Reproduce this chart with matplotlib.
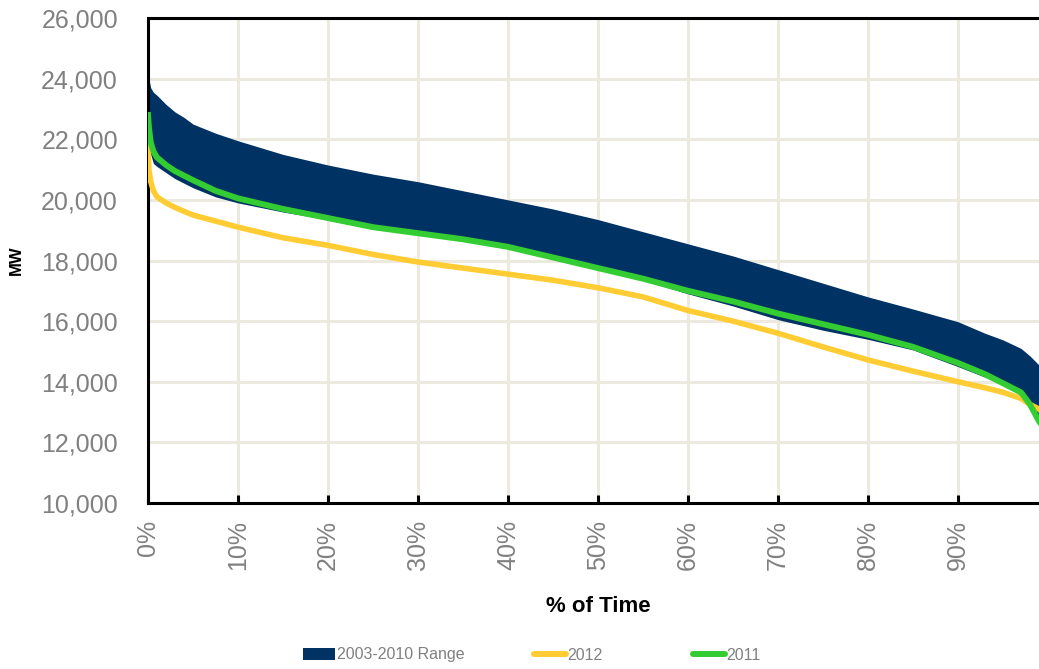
import matplotlib
matplotlib.use("Agg")
import matplotlib.pyplot as plt
from matplotlib.patches import Patch
from matplotlib.lines import Line2D
from matplotlib.ticker import FuncFormatter, MultipleLocator

plt.rcParams['font.family'] = ['Liberation Sans', 'DejaVu Sans']

# --- data ---
pct = [0, 0.1, 0.3, 0.6, 1, 2, 3, 4, 5, 7.5, 10, 15, 20, 25, 30, 35, 40, 45, 50,
       55, 60, 65, 70, 75, 80, 85, 90, 93, 95, 97, 98, 99, 99.5, 100]

range_high = [24600, 24000, 23700, 23550, 23450, 23150, 22900, 22720, 22500, 22200, 21950,
              21500, 21150, 20850, 20600, 20300, 20000, 19700, 19350, 18950, 18550,
              18150, 17700, 17250, 16800, 16400, 15980, 15600, 15380, 15100, 14850,
              14550, 14300, 13800]
range_low = [22200, 21900, 21500, 21200, 21100, 20900, 20700, 20550, 20400, 20100, 19900,
             19600, 19350, 19050, 18850, 18650, 18400, 18050, 17700, 17350, 16900,
             16500, 16050, 15700, 15400, 15050, 14500, 14150, 13900, 13550, 13200,
             12800, 12500, 12200]
load_2011 = [22800, 22400, 21900, 21600, 21400, 21150, 20950, 20800, 20650, 20300, 20050,
             19700, 19400, 19100, 18900, 18700, 18450, 18100, 17750, 17400, 17000,
             16650, 16250, 15900, 15550, 15150, 14620, 14250, 13950, 13650, 13250,
             12700, 12500, 12300]
load_2012 = [21800, 21000, 20600, 20300, 20100, 19900, 19750, 19620, 19500, 19300, 19100,
             18750, 18500, 18200, 17950, 17750, 17550, 17350, 17100, 16800, 16350,
             16000, 15600, 15150, 14720, 14350, 14000, 13800, 13650, 13450, 13250,
             13100, 12950, 12700]

labels = ['2003-2010 Range', '2012', '2011']
navy = '#003263'
yellow = '#FFCC33'
green = '#33CC33'
gray = '#808080'
grid_c = '#ECE9DF'

fig = plt.figure(figsize=(10.39, 6.69), dpi=100)
# axes run to 100% but the picture is cut just short of it
ax = fig.add_axes([148 / 1039, 166 / 669, 900 / 1039, 485 / 669])

ax.fill_between(pct, range_low, range_high, color=navy, lw=0, zorder=2)
ax.plot(pct, load_2012, color=yellow, lw=4, zorder=3)
ax.plot(pct, load_2011, color=green, lw=4.3, zorder=4)

ax.set_xlim(0, 100)
ax.set_ylim(10000, 26000)
ax.set_xticks(range(0, 100, 10))
ax.yaxis.set_major_locator(MultipleLocator(2000))
ax.xaxis.set_major_formatter(FuncFormatter(lambda v, p: f"{v:.0f}%"))
ax.yaxis.set_major_formatter(FuncFormatter(lambda v, p: f"{v:,.0f}"))

ax.grid(True, color=grid_c, lw=2.2, zorder=0)
ax.set_axisbelow(True)
for s in ax.spines.values():
    s.set_linewidth(2.2)
    s.set_color('black')

ax.tick_params(axis='x', direction='in', length=6, width=2.2, pad=12,
               labelsize=18, labelcolor=gray, labelrotation=90)
ax.tick_params(axis='y', length=0, pad=21.6, labelsize=18, labelcolor=gray)

ax.set_xlabel('% of Time', fontsize=16, fontweight='bold')
ax.xaxis.set_label_coords(0.5, -0.192)
ax.set_ylabel('MW', fontsize=12, fontweight='bold')
ax.yaxis.set_label_coords(-0.138, 0.5)

# legend entries placed one by one (the original spreads them out)
handles = [Patch(facecolor=navy, edgecolor='none'),
           Line2D([], [], color=yellow, lw=4.3, solid_capstyle='round'),
           Line2D([], [], color=green, lw=4.3, solid_capstyle='round')]
starts = [303, 534, 693]
for h, lab, x0 in zip(handles, labels, starts):
    leg = fig.legend([h], [lab], loc='center left',
                     bbox_to_anchor=(x0 / 1039, 1 - 655 / 669),
                     frameon=False, borderpad=0, borderaxespad=0,
                     handlelength=2.0, handletextpad=0.1, fontsize=11.5)
    leg.get_texts()[0].set_color(gray)

fig.savefig('out.png', dpi=100)
